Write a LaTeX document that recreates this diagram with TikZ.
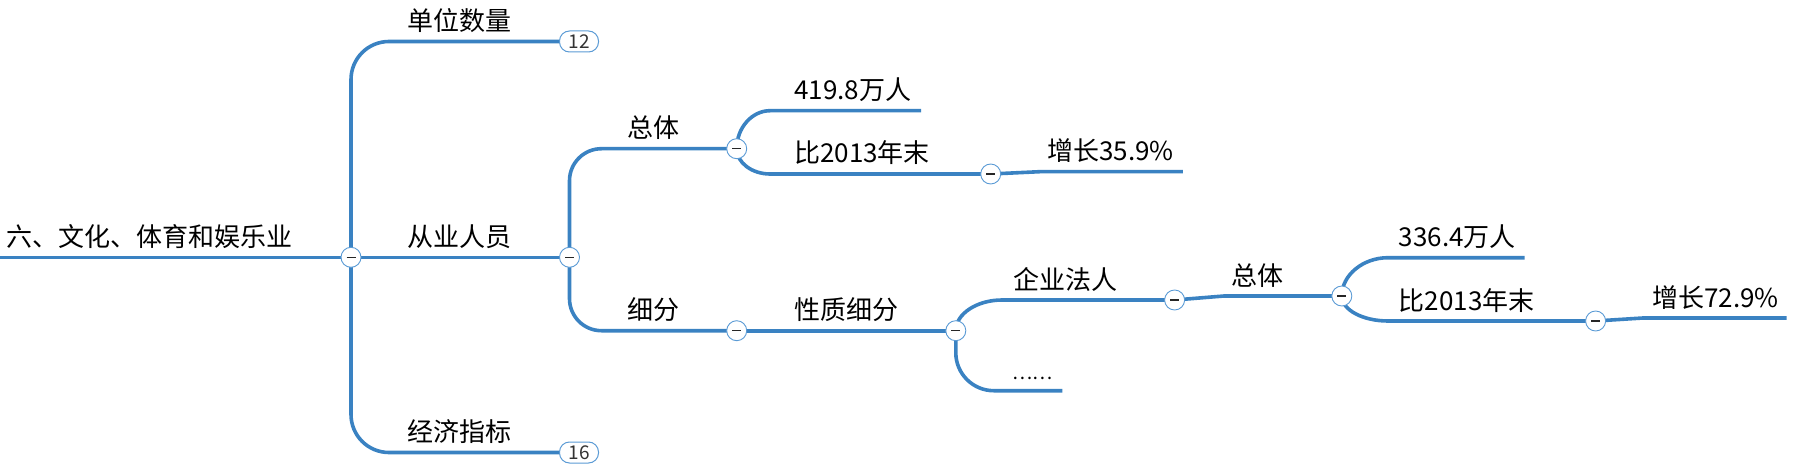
\documentclass[tikz,border=0pt]{standalone}
\usepackage{fontspec}
\setmainfont{Noto Sans CJK SC}
\usepackage{tikz}
\usetikzlibrary{backgrounds}

\definecolor{branchblue}{HTML}{3A82C2}
\definecolor{foldblue}{HTML}{5B9BD5}

\tikzset{
  branch/.style={draw=branchblue, line width=3.6pt},
  fold/.style={circle, draw=foldblue, fill=white, line width=0.9pt, minimum size=20pt, inner sep=0pt,
    path picture={\draw[black!85, line width=1.1pt] ([xshift=-4.5pt]path picture bounding box.center) -- ([xshift=4.5pt]path picture bounding box.center);}},
  topic/.style={anchor=base west, inner sep=0pt, font=\fontsize{26}{30}\selectfont},
  badge/.style={draw=foldblue, fill=white, line width=1pt, rounded corners=10pt, minimum width=39pt,
    minimum height=21pt, inner sep=0pt, text=black!80, font=\fontsize{19}{20}\selectfont},
}

\begin{document}
\begin{tikzpicture}[x=1pt, y=-1pt]
        \useasboundingbox (0,0) rectangle (1794,476);

        % fold buttons
        \node[fold] (c0) at (351,257.3) {};
        \node[fold] (c1) at (569.5,257.3) {};
        \node[fold] (c11) at (736.7,148.7) {};
        \node[fold] (c112) at (990.7,174) {};
        \node[fold] (c12) at (736.7,330.7) {};
        \node[fold] (c121) at (955.8,330.7) {};
        \node[fold] (c1211) at (1174.6,300) {};
        \node[fold] (c12111) at (1341.8,296) {};
        \node[fold] (c121112) at (1595.6,321) {};
        \node[badge] (b12) at (579,41.5) {12};
        \node[badge] (b16) at (579,452.5) {16};

        % line ends
        \coordinate (root-start) at (0,257.3);
        \coordinate (rs1-start) at (770,110.7);
        \coordinate (rs1-end) at (921,110.7);
        \coordinate (bn1-start) at (770,174);
        \coordinate (zz1-start) at (1039.6,171.7);
        \coordinate (zz1-end) at (1182.8,171.7);
        \coordinate (qyfr-start) at (1002,300);
        \coordinate (more-end) at (1062.4,390.7);
        \coordinate (zt2-start) at (1224,296);
        \coordinate (rs2-start) at (1388,257.7);
        \coordinate (rs2-end) at (1524.5,257.7);
        \coordinate (bn2-start) at (1388,321);
        \coordinate (zz2-start) at (1642.8,318);
        \coordinate (zz2-end) at (1786.5,318);

        % topics
        \node[topic] (root) at (6,246.3) {六、文化、体育和娱乐业};
        \node[topic] (dwsl) at (407.5,30.5) {单位数量};
        \node[topic] (cyry) at (407.5,246.3) {从业人员};
        \node[topic] (jjzb) at (407.5,441.5) {经济指标};
        \node[topic] (zt) at (627,137.7) {总体};
        \node[topic] (xf) at (627,319.7) {细分};
        \node[topic] (rs1) at (794,99.7) {419.8万人};
        \node[topic] (bn1) at (794,163) {比2013年末};
        \node[topic] (zz1) at (1047,160.7) {增长35.9\%};
        \node[topic] (xzxf) at (794,319.7) {性质细分};
        \node[topic] (qyfr) at (1013,289) {企业法人};
        \node[topic, font=\fontsize{19}{22}\selectfont] (more) at (1012,379.7) {……};
        \node[topic] (zt2) at (1231,285) {总体};
        \node[topic] (rs2) at (1398.7,246.7) {336.4万人};
        \node[topic] (bn2) at (1398.7,310) {比2013年末};
        \node[topic] (zz2) at (1652,307) {增长72.9\%};

        \begin{pgfonlayer}{background}
        \draw[branch] (root-start) -- (c0.center);
        \draw[branch, rounded corners=38pt] (c0.center) |- (b12.west);
        \draw[branch] (c0.center) -- (c1.center);
        \draw[branch, rounded corners=38pt] (c0.center) |- (b16.west);

        \draw[branch, rounded corners=32pt] (c1.center) |- (c11.center);
        \draw[branch, rounded corners=32pt] (c1.center) |- (c12.center);

        \draw[branch] (c11.center) .. controls +(0,-21) and +(-18,0) .. (rs1-start) -- (rs1-end);
        \draw[branch] (c11.center) .. controls +(0,14) and +(-18,0) .. (bn1-start) -- (c112.center);
        \draw[branch] (c112.center) -- (zz1-start) -- (zz1-end);

        \draw[branch] (c12.center) -- (c121.center);
        \draw[branch] (c121.center) .. controls +(0,-17) and +(-25,0) .. (qyfr-start) -- (c1211.center);
        \draw[branch, rounded corners=38pt] (c121.center) |- (more-end);
        \draw[branch] (c1211.center) -- (zt2-start) -- (c12111.center);

        \draw[branch] (c12111.center) .. controls +(0,-21) and +(-25,0) .. (rs2-start) -- (rs2-end);
        \draw[branch] (c12111.center) .. controls +(0,14) and +(-25,0) .. (bn2-start) -- (c121112.center);
        \draw[branch] (c121112.center) -- (zz2-start) -- (zz2-end);
        \end{pgfonlayer}
\end{tikzpicture}
\end{document}
